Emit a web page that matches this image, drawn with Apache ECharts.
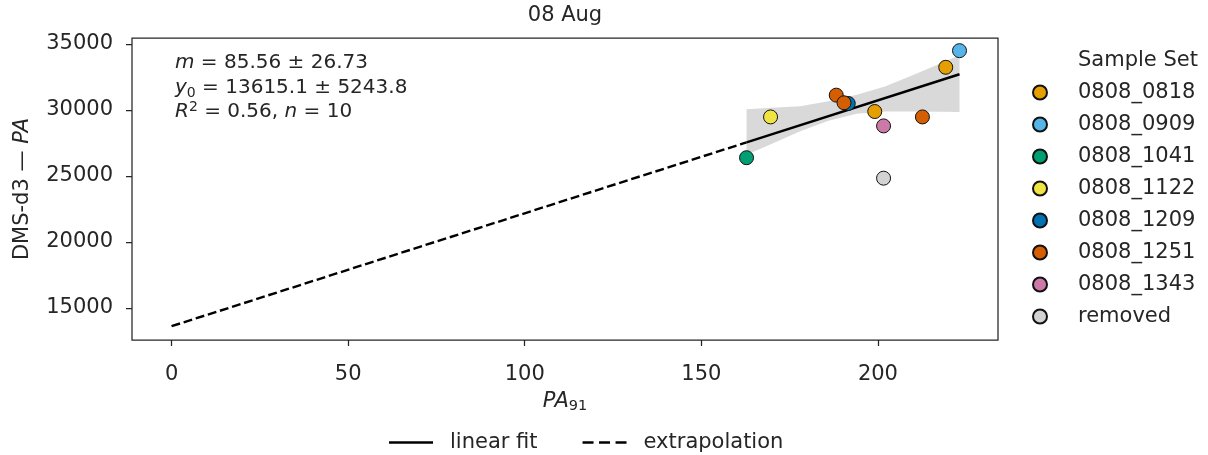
<!DOCTYPE html>
<html>
<head>
<meta charset="utf-8">
<script src="https://cdn.jsdelivr.net/npm/echarts@6/dist/echarts.min.js"></script>
<style>
  html, body { margin: 0; padding: 0; background: #ffffff; }
  #chart { width: 1208px; height: 455px; }
</style>
</head>
<body>
<div id="chart"></div>
<script>
// Sample sets and their marker colours
const sampleSets = ['0808_0818', '0808_0909', '0808_1041', '0808_1122', '0808_1209', '0808_1251', '0808_1343', 'removed'];
const setColors = ['#E69F00', '#56B4E9', '#009E73', '#F0E442', '#0072B2', '#D55E00', '#CC79A7', '#D3D3D3'];

// [PA_91, DMS-d3 PA] per sample set
const points0818 = [[199.1, 29880], [219.2, 33230]];
const points0909 = [[223.1, 34490]];
const points1041 = [[162.8, 26380]];
const points1122 = [[169.6, 29470]];
const points1209 = [[191.6, 30490]];
const points1251 = [[188.2, 31120], [190.4, 30540], [212.6, 29470]];
const points1343 = [[201.6, 28790]];
const pointsRemoved = [[201.6, 24830]];

// Linear fit parameters
const slope = 85.56;
const slopeErr = 26.73;
const intercept = 13615.1;
const interceptErr = 5243.8;
const rSquared = 0.56;

// Confidence band around the fit
const bandX = [162.8, 170, 178, 186, 194, 202, 210, 218, 223.1];
const bandUpper = [30057, 30171, 30285, 30665, 31160, 31783, 32642, 33560, 34150];
const bandLower = [26596, 27433, 28384, 29182, 29715, 29882, 29882, 29867, 29851];

// Axis ticks
const xTicks = [0, 50, 100, 150, 200];
const yTicks = [15000, 20000, 25000, 30000, 35000];

const allSets = [points0818, points0909, points1041, points1122, points1209, points1251, points1343, pointsRemoved];
const fitPoints = allSets.slice(0, 7).flat();
const nFit = fitPoints.length;
const fitXs = fitPoints.map(p => p[0]);
const xFitMin = Math.min(...fitXs);
const xFitMax = Math.max(...fitXs);
const lineAt = x => intercept + slope * x;

const FONT = 'DejaVu Sans';
const INK = '#262626';
const FS = 21;
const LINE_W = 2.4;
const DASH = [8.9, 3.8];

// Legend glyphs for the two line styles (44 x 2.4 boxes)
const solidIcon = 'path://M0,0H44V2.4H0Z';
const dashedIcon = 'path://M0,0H11V2.4H0Z M16.5,0H27.5V2.4H16.5Z M33,0H44V2.4H33Z';

const scatterSeries = sampleSets.map((name, i) => ({
  name: name,
  type: 'scatter',
  data: allSets[i],
  symbol: 'circle',
  symbolSize: 14,
  z: 5,
  itemStyle: { color: setColors[i], borderColor: '#111111', borderWidth: 1, opacity: 1 },
  emphasis: { disabled: true }
}));

const chart = echarts.init(document.getElementById('chart'), null, { renderer: 'canvas' });

chart.setOption({
  animation: false,
  backgroundColor: '#ffffff',
  textStyle: { fontFamily: FONT, color: INK },
  grid: {
    left: 132, right: 210, top: 38, bottom: 115,
    show: true, borderColor: INK, borderWidth: 1.25, backgroundColor: 'transparent'
  },
  xAxis: {
    type: 'value',
    min: -11.2, max: 234,
    axisLine: { show: false, onZero: false },
    splitLine: { show: false },
    axisTick: { show: true, length: 6, lineStyle: { color: INK, width: 1.25 }, customValues: xTicks },
    axisLabel: { fontSize: FS, color: INK, fontFamily: FONT, margin: 24, customValues: xTicks, formatter: v => String(v) },
    name: '{i|PA}{sub|91}',
    nameLocation: 'middle',
    nameGap: 50,
    nameTextStyle: {
      fontSize: FS, color: INK, fontFamily: FONT,
      rich: {
        i: { fontSize: FS, fontStyle: 'italic', fontFamily: FONT, color: INK, lineHeight: 24 },
        sub: { fontSize: 14.5, fontFamily: FONT, color: INK, lineHeight: 14, verticalAlign: 'bottom' }
      }
    }
  },
  yAxis: {
    type: 'value',
    min: 12570, max: 35450,
    axisLine: { show: false, onZero: false },
    splitLine: { show: false },
    axisTick: { show: true, length: 6, lineStyle: { color: INK, width: 1.25 }, customValues: yTicks },
    axisLabel: { fontSize: FS, color: INK, fontFamily: FONT, margin: 19, customValues: yTicks, formatter: v => String(v) },
    name: 'DMS-d3 — {i|PA}',
    nameLocation: 'middle',
    nameRotate: 90,
    nameGap: 99,
    nameTextStyle: {
      fontSize: FS, color: INK, fontFamily: FONT,
      rich: {
        i: { fontSize: FS, fontStyle: 'italic', fontFamily: FONT, color: INK }
      }
    }
  },
  legend: [
    {
      data: sampleSets,
      orient: 'vertical',
      left: 1027,
      top: 77,
      icon: 'circle',
      itemWidth: 14,
      itemHeight: 14,
      itemGap: 11,
      selectedMode: false,
      textStyle: { fontSize: FS, color: INK, fontFamily: FONT, lineHeight: 20, padding: [0, 0, 0, 26] }
    },
    {
      data: [
        { name: 'linear fit', icon: solidIcon },
        { name: 'extrapolation', icon: dashedIcon }
      ],
      orient: 'horizontal',
      left: 384,
      top: 427,
      itemWidth: 44,
      itemHeight: 2.4,
      itemGap: 45,
      selectedMode: false,
      itemStyle: { color: '#000000', borderWidth: 0 },
      textStyle: { fontSize: FS, color: INK, fontFamily: FONT, lineHeight: 20, padding: [0, 0, 0, 12] }
    }
  ],
  graphic: [
    {
      type: 'text', x: 565, y: 16,
      style: { text: '08 Aug', fontSize: FS, fontFamily: FONT, fill: INK, align: 'center', verticalAlign: 'middle' }
    },
    {
      type: 'text', x: 1078, y: 61,
      style: { text: 'Sample Set', fontSize: FS, fontFamily: FONT, fill: INK, align: 'left', verticalAlign: 'middle' }
    },
    {
      type: 'text', x: 175, y: 51,
      style: {
        text:
          '{i|m}{t| = ' + slope.toFixed(2) + ' ± ' + slopeErr.toFixed(2) + '}\n' +
          '{i|y}{sub|0}{t| = ' + intercept.toFixed(1) + ' ± ' + interceptErr.toFixed(1) + '}\n' +
          '{i|R}{sup|2}{t| = ' + rSquared.toFixed(2) + ', }{i|n}{t| = ' + nFit + '}',
        fontSize: 20, fontFamily: FONT, fill: INK, align: 'left', verticalAlign: 'top',
        rich: {
          t: { fontSize: 20, fontFamily: FONT, fill: INK, lineHeight: 24.5 },
          i: { fontSize: 20, fontFamily: FONT, fontStyle: 'italic', fill: INK, lineHeight: 24.5 },
          sub: { fontSize: 14, fontFamily: FONT, fill: INK, lineHeight: 14, verticalAlign: 'bottom' },
          sup: { fontSize: 14, fontFamily: FONT, fill: INK, lineHeight: 14, verticalAlign: 'top' }
        }
      }
    }
  ],
  series: [
    {
      name: 'confidence band',
      type: 'custom',
      silent: true,
      z: 1,
      data: [[bandX[0], bandLower[0]]],
      renderItem: function (params, api) {
        const pts = [];
        for (let i = 0; i < bandX.length; i++) pts.push(api.coord([bandX[i], bandUpper[i]]));
        for (let i = bandX.length - 1; i >= 0; i--) pts.push(api.coord([bandX[i], bandLower[i]]));
        return { type: 'polygon', shape: { points: pts }, style: { fill: '#d9d9d9', stroke: null } };
      }
    },
    {
      name: 'linear fit',
      type: 'line',
      z: 3,
      symbol: 'none',
      data: [[xFitMin, lineAt(xFitMin)], [xFitMax, lineAt(xFitMax)]],
      lineStyle: { color: '#000000', width: LINE_W, type: 'solid' },
      itemStyle: { color: '#000000' },
      emphasis: { disabled: true }
    },
    {
      name: 'extrapolation',
      type: 'line',
      z: 3,
      symbol: 'none',
      data: [[0, lineAt(0)], [xFitMin, lineAt(xFitMin)]],
      lineStyle: { color: '#000000', width: LINE_W, type: DASH },
      itemStyle: { color: '#000000' },
      emphasis: { disabled: true }
    }
  ].concat(scatterSeries)
});
</script>
</body>
</html>
